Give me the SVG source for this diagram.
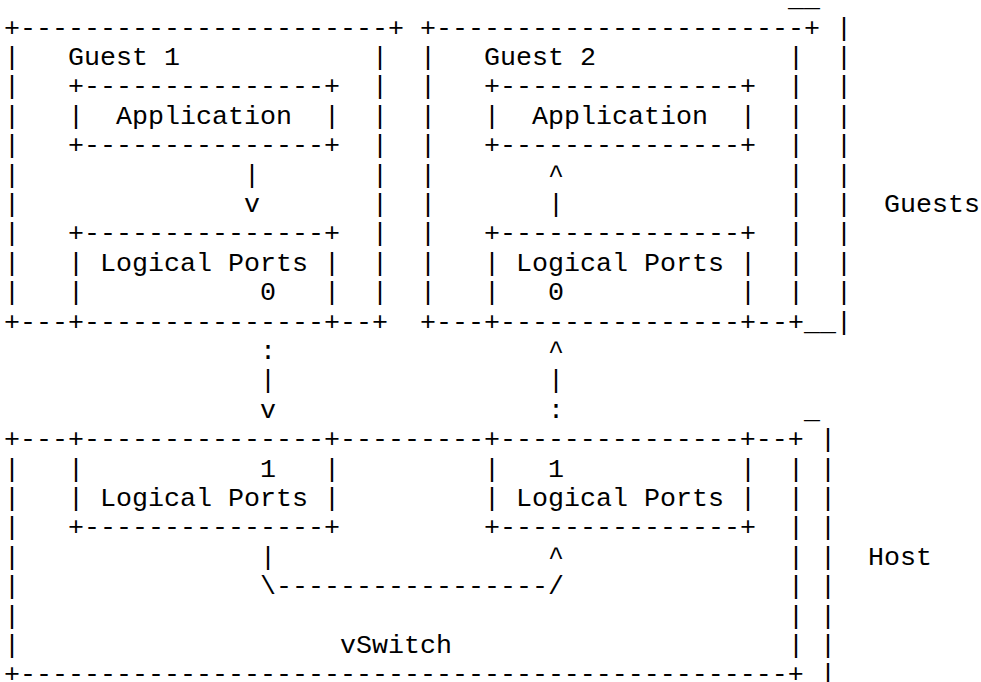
<svg xmlns="http://www.w3.org/2000/svg" width="981" height="682" viewBox="0 0 981 682" xml:space="preserve">
<style>
text { font-family: "Liberation Mono", "Courier New", monospace; font-size: 26.66px; fill: #000; white-space: pre; }
</style>
<rect width="981" height="682" fill="#fff"/>
<g id="guest1">
<text x="4" y="35.6">+-----------------------+</text>
<text x="4" y="65">|</text><text x="68" y="65">Guest 1</text><text x="372" y="65">|</text>
<text x="4" y="94.4">|</text><text x="372" y="94.4">|</text>
<text x="4" y="123.8">|</text><text x="372" y="123.8">|</text>
<text x="4" y="153.2">|</text><text x="372" y="153.2">|</text>
<text x="4" y="182.6">|</text><text x="372" y="182.6">|</text>
<text x="4" y="212">|</text><text x="372" y="212">|</text>
<text x="4" y="241.4">|</text><text x="372" y="241.4">|</text>
<text x="4" y="270.8">|</text><text x="372" y="270.8">|</text>
<text x="4" y="300.2">|</text><text x="372" y="300.2">|</text>
<text x="4" y="329.6">+---+---------------+--+</text>
</g>
<g id="guest1-application">
<text x="68" y="94.4">+---------------+</text>
<text x="68" y="123.8">|  Application  |</text>
<text x="68" y="153.2">+---------------+</text>
</g>
<g id="guest1-logical-ports">
<text x="68" y="241.4">+---------------+</text>
<text x="68" y="270.8">| Logical Ports |</text>
<text x="68" y="300.2">|           0   |</text>
</g>
<g id="guest2">
<text x="420" y="35.6">+-----------------------+</text>
<text x="420" y="65">|</text><text x="484" y="65">Guest 2</text><text x="788" y="65">|</text>
<text x="420" y="94.4">|</text><text x="788" y="94.4">|</text>
<text x="420" y="123.8">|</text><text x="788" y="123.8">|</text>
<text x="420" y="153.2">|</text><text x="788" y="153.2">|</text>
<text x="420" y="182.6">|</text><text x="788" y="182.6">|</text>
<text x="420" y="212">|</text><text x="788" y="212">|</text>
<text x="420" y="241.4">|</text><text x="788" y="241.4">|</text>
<text x="420" y="270.8">|</text><text x="788" y="270.8">|</text>
<text x="420" y="300.2">|</text><text x="788" y="300.2">|</text>
<text x="420" y="329.6">+---+---------------+--+</text>
</g>
<g id="guest2-application">
<text x="484" y="94.4">+---------------+</text>
<text x="484" y="123.8">|  Application  |</text>
<text x="484" y="153.2">+---------------+</text>
</g>
<g id="guest2-logical-ports">
<text x="484" y="241.4">+---------------+</text>
<text x="484" y="270.8">| Logical Ports |</text>
<text x="484" y="300.2">|   0           |</text>
</g>
<g id="guests-bracket">
<text x="788" y="6.2">__</text>
<text x="836" y="35.6">|</text>
<text x="836" y="65">|</text>
<text x="836" y="94.4">|</text>
<text x="836" y="123.8">|</text>
<text x="836" y="153.2">|</text>
<text x="836" y="182.6">|</text>
<text x="836" y="212">|</text>
<text x="836" y="241.4">|</text>
<text x="836" y="270.8">|</text>
<text x="836" y="300.2">|</text>
<text x="804" y="329.6">__|</text>
<text x="884" y="212">Guests</text>
</g>
<g id="host">
<text x="4" y="447.2">+---+---------------+---------+---------------+--+</text>
<text x="4" y="476.6">|</text><text x="788" y="476.6">|</text>
<text x="4" y="506">|</text><text x="788" y="506">|</text>
<text x="4" y="535.4">|</text><text x="788" y="535.4">|</text>
<text x="4" y="564.8">|</text><text x="788" y="564.8">|</text>
<text x="4" y="594.2">|</text><text x="788" y="594.2">|</text>
<text x="4" y="623.6">|</text><text x="788" y="623.6">|</text>
<text x="4" y="653">|</text><text x="340" y="653">vSwitch</text><text x="788" y="653">|</text>
<text x="4" y="682.4">+------------------------------------------------+</text>
</g>
<g id="host-logical-ports-1">
<text x="68" y="476.6">|           1   |</text>
<text x="68" y="506">| Logical Ports |</text>
<text x="68" y="535.4">+---------------+</text>
</g>
<g id="host-logical-ports-2">
<text x="484" y="476.6">|   1           |</text>
<text x="484" y="506">| Logical Ports |</text>
<text x="484" y="535.4">+---------------+</text>
</g>
<g id="host-bracket">
<text x="804" y="417.8">_</text>
<text x="820" y="447.2">|</text>
<text x="820" y="476.6">|</text>
<text x="820" y="506">|</text>
<text x="820" y="535.4">|</text>
<text x="820" y="564.8">|</text>
<text x="820" y="594.2">|</text>
<text x="820" y="623.6">|</text>
<text x="820" y="653">|</text>
<text x="820" y="682.4">|</text>
<text x="868" y="564.8">Host</text>
</g>
<g id="connectors">
<g id="c-guest1-app-to-ports">
<text x="244" y="182.6">|</text>
<text x="244" y="212">v</text>
</g>
<g id="c-guest2-ports-to-app">
<text x="548" y="182.6">^</text>
<text x="548" y="212">|</text>
</g>
<g id="c-guest1-to-host">
<text x="260" y="359">:</text>
<text x="260" y="388.4">|</text>
<text x="260" y="417.8">v</text>
</g>
<g id="c-host-to-guest2">
<text x="548" y="359">^</text>
<text x="548" y="388.4">|</text>
<text x="548" y="417.8">:</text>
</g>
<g id="c-vswitch">
<text x="260" y="564.8">|</text>
<text x="260" y="594.2">\-----------------/</text>
<text x="548" y="564.8">^</text>
</g>
</g>
</svg>
